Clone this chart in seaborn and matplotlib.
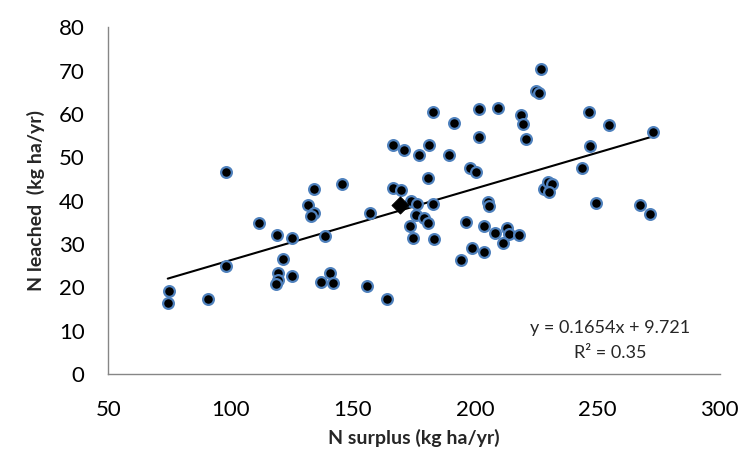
import matplotlib
matplotlib.use("Agg")
import matplotlib.pyplot as plt
import numpy as np
import pandas as pd
import seaborn as sns

# N surplus (x) and N leached (y), kg ha/yr
n_surplus = [
    74.8, 74.3, 90.9, 98.3, 98.2, 111.8, 119.0, 125.0, 138.4, 121.5,
    119.3, 119.3, 118.5, 124.9, 140.6, 137.0, 141.7, 155.9, 164.0, 145.7,
    134.0, 131.7, 134.0, 132.7, 157.0, 182.6, 191.2, 166.2, 171.1, 177.1,
    181.1, 189.5, 180.7, 166.2, 169.5, 173.7, 176.2, 182.7, 175.8, 179.1,
    180.7, 173.4, 174.4, 183.3, 194.3, 226.8, 224.7, 226.1, 201.7, 209.4,
    218.9, 219.4, 220.6, 201.6, 246.7, 254.9, 272.7, 247.0, 198.0, 200.2,
    243.5, 228.0, 229.9, 231.3, 230.0, 205.2, 205.5, 249.4, 267.3, 271.5,
    196.4, 203.6, 213.0, 208.2, 214.0, 217.9, 211.5, 198.7, 203.6,
]
n_leached = [
    19.2, 16.3, 17.2, 24.9, 46.5, 34.8, 32.0, 31.4, 31.9, 26.5,
    23.4, 21.8, 20.8, 22.5, 23.4, 21.3, 21.0, 20.4, 17.3, 43.8,
    42.6, 39.1, 37.2, 36.4, 37.1, 60.5, 57.9, 52.8, 51.7, 50.5,
    52.8, 50.6, 45.2, 42.9, 42.4, 40.0, 39.2, 39.2, 36.8, 36.1,
    34.8, 34.2, 31.4, 31.2, 26.4, 70.4, 65.2, 64.8, 61.1, 61.4,
    59.8, 57.7, 54.3, 54.6, 60.5, 57.4, 55.9, 52.5, 47.6, 46.7,
    47.5, 42.6, 44.2, 43.8, 42.1, 39.8, 38.8, 39.5, 39.0, 36.9,
    35.0, 34.2, 33.8, 32.5, 32.2, 32.1, 30.3, 29.0, 28.2,
]

# mean point (diamond)
mean_surplus = [169.4]
mean_leached = [39.1]

# trend line from the chart
slope = 0.1654
intercept = 9.721
r_squared = 0.35

df = pd.DataFrame({"surplus": n_surplus, "leached": n_leached})
mean_df = pd.DataFrame({"surplus": mean_surplus, "leached": mean_leached})

x_line = np.array([df["surplus"].min(), df["surplus"].max()])
line_df = pd.DataFrame({"surplus": x_line, "leached": slope * x_line + intercept})

sns.set_style("white")
plt.rcParams["font.family"] = ["Lato", "DejaVu Sans"]

fig = plt.figure(figsize=(7.42, 4.55), dpi=100)
ax = fig.add_axes([0.146, 0.178, 0.824, 0.762])

sns.scatterplot(
    data=df, x="surplus", y="leached", ax=ax,
    color="black", edgecolor="#4f81bd", linewidth=1.6, s=60, zorder=3,
)
sns.lineplot(data=line_df, x="surplus", y="leached", ax=ax,
             color="black", linewidth=1.5, zorder=2)
sns.scatterplot(
    data=mean_df, x="surplus", y="leached", ax=ax, marker="D",
    color="black", edgecolor="black", s=75, zorder=4,
)

ax.set_xlim(50, 300)
ax.set_ylim(0, 80)
ax.set_xticks(np.arange(50, 301, 50))
ax.set_yticks(np.arange(0, 81, 10))

for side in ["top", "right"]:
    ax.spines[side].set_visible(False)
for side in ["left", "bottom"]:
    ax.spines[side].set_color("#868686")
    ax.spines[side].set_linewidth(1.0)

ax.tick_params(axis="both", which="major", direction="out", length=6,
               width=1.0, color="#868686", labelsize=16, labelcolor="black")
ax.tick_params(axis="y", pad=11)
ax.tick_params(axis="x", pad=13)

ax.set_xlabel("N surplus (kg ha/yr)", fontsize=14, fontweight="bold", labelpad=6)
ax.set_ylabel("N leached  (kg ha/yr)", fontsize=14, fontweight="bold", labelpad=10)

ax.text(255.3, 10.6, f"y = {slope}x + {intercept}", ha="center", va="center",
        fontsize=13)
ax.text(255.3, 4.8, f"R² = {r_squared}", ha="center", va="center", fontsize=13)

fig.savefig("out.png", dpi=100)
